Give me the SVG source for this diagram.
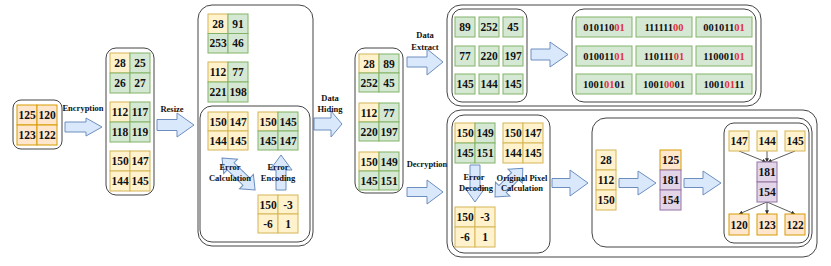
<svg xmlns="http://www.w3.org/2000/svg" width="831" height="266" viewBox="0 0 831 266">
<defs>
<style>
.y{fill:#fff2cc;stroke:#d6b656;stroke-width:1}
.g{fill:#d5e8d4;stroke:#82b366;stroke-width:1}
.o{fill:#ffe6cc;stroke:#d79b00;stroke-width:1}
.p{fill:#e1d5e7;stroke:#9673a6;stroke-width:1}
.box{fill:none;stroke:#444;stroke-width:1}
.arr{fill:#dae8fc;stroke:#6c8ebf;stroke-width:1}
text{font-family:"Liberation Serif","Times New Roman",serif;font-weight:bold;fill:#111;text-anchor:middle;dominant-baseline:central}
.n{font-size:11.5px}
.b{font-size:10.5px}
.lb{font-size:8.5px}
.r{fill:#e0313f}
.ln{stroke:#333;stroke-width:0.8;fill:none}
</style>
<marker id="ah" viewBox="0 0 6 6" refX="5.5" refY="3" markerWidth="5" markerHeight="5" orient="auto">
<path d="M0,0 L6,3 L0,6 Z" fill="#333"/>
</marker>
</defs>
<rect width="831" height="266" fill="#fff"/>

<g id="connectors">
<!-- Encryption -->
<path class="arr" d="M65,122 H86 V118 L102,127 L86,136 V132 H65 Z"/>
<text class="lb" x="83" y="108">Encryption</text>
<!-- Resize -->
<path class="arr" d="M157,119.5 H177 V113 L194,125 L177,137 V130.5 H157 Z"/>
<text class="lb" x="172" y="109">Resize</text>
<!-- Data Hiding -->
<path class="arr" d="M314,118 H331 V111 L342,124 L331,137 V130 H314 Z"/>
<text class="lb" x="330" y="98">Data</text>
<text class="lb" x="330" y="109">Hiding</text>
<!-- Data Extract -->
<path class="arr" d="M407,57 H427 V49 L443,62 L427,75 V67 H407 Z"/>
<text class="lb" x="425" y="35">Data</text>
<text class="lb" x="425" y="47">Extract</text>
<!-- Decryption -->
<path class="arr" d="M407,187.5 H427 V180 L443,192 L427,204 V196.5 H407 Z"/>
<text class="lb" x="427" y="164">Decryption</text>
<!-- top inner -->
<path class="arr" d="M531,49 H550 V42 L568,54.5 L550,67 V60 H531 Z"/>
<!-- bottom arrows -->
<path class="arr" d="M552,178.5 H570 V170 L588,183 L570,196 V187.5 H552 Z"/>
<path class="arr" d="M619,178.5 H638 V171 L656,183 L638,195 V187.5 H619 Z"/>
<path class="arr" d="M684,178.5 H703 V171 L721,183 L703,195 V187.5 H684 Z"/>
<!-- Error Calculation (double) -->
<path class="arr" transform="translate(222,158) rotate(44)" d="M0,0 L12,-10 V-5 H34 V-10 L46,0 L34,10 V5 H12 V10 Z"/>
<!-- Error Encoding (up) -->
<path class="arr" d="M276,190 V170 H270 L281,155 L292,170 H286 V190 Z"/>
<!-- Error Decoding (down) -->
<path class="arr" d="M470,165 V188 H465 L475,202 L485,188 H480 V165 Z"/>
<!-- Original Pixel Calculation (double) -->
<path class="arr" transform="translate(495,197) rotate(-46)" d="M0,0 L11,-10 V-5 H29 V-10 L40,0 L29,10 V5 H11 V10 Z"/>
<text class="lb" x="230" y="167">Error</text>
<text class="lb" x="230" y="178">Calculation</text>
<text class="lb" x="278" y="167">Error</text>
<text class="lb" x="278" y="178">Encoding</text>
<text class="lb" x="474" y="177">Error</text>
<text class="lb" x="476" y="188">Decoding</text>
<text class="lb" x="522" y="178">Original Pixel</text>
<text class="lb" x="522" y="188">Calculation</text>
<!-- tree lines -->
<line class="ln" x1="739" y1="151" x2="766" y2="162" marker-end="url(#ah)"/>
<line class="ln" x1="767" y1="151" x2="767" y2="162" marker-end="url(#ah)"/>
<line class="ln" x1="795" y1="151" x2="768" y2="162" marker-end="url(#ah)"/>
<line class="ln" x1="767" y1="202" x2="739" y2="214" marker-end="url(#ah)"/>
<line class="ln" x1="767" y1="202" x2="767" y2="214" marker-end="url(#ah)"/>
<line class="ln" x1="767" y1="202" x2="795" y2="214" marker-end="url(#ah)"/>
</g>

<g id="original">
<rect class="box" x="13" y="100" width="49" height="49" rx="8"/>
<rect class="o" x="17" y="105" width="20" height="20"/><text class="n" x="27" y="115">125</text>
<rect class="o" x="37" y="105" width="20" height="20"/><text class="n" x="47" y="115">120</text>
<rect class="o" x="17" y="125" width="20" height="20"/><text class="n" x="27" y="135">123</text>
<rect class="o" x="37" y="125" width="20" height="20"/><text class="n" x="47" y="135">122</text>
</g>

<g id="encrypted">
<rect class="box" x="106" y="48" width="48" height="147" rx="10"/>
<rect class="y" x="110" y="53" width="20" height="20"/><text class="n" x="120" y="63">28</text>
<rect class="g" x="130" y="53" width="20" height="20"/><text class="n" x="140" y="63">25</text>
<rect class="g" x="110" y="73" width="20" height="20"/><text class="n" x="120" y="83">26</text>
<rect class="g" x="130" y="73" width="20" height="20"/><text class="n" x="140" y="83">27</text>
<rect class="y" x="110" y="102" width="20" height="20"/><text class="n" x="120" y="112">112</text>
<rect class="g" x="130" y="102" width="20" height="20"/><text class="n" x="140" y="112">117</text>
<rect class="g" x="110" y="122" width="20" height="20"/><text class="n" x="120" y="132">118</text>
<rect class="g" x="130" y="122" width="20" height="20"/><text class="n" x="140" y="132">119</text>
<rect class="y" x="110" y="151" width="20" height="20"/><text class="n" x="120" y="161">150</text>
<rect class="y" x="130" y="151" width="20" height="20"/><text class="n" x="140" y="161">147</text>
<rect class="y" x="110" y="171" width="20" height="20"/><text class="n" x="120" y="181">144</text>
<rect class="y" x="130" y="171" width="20" height="20"/><text class="n" x="140" y="181">145</text>
</g>

<g id="resized">
<rect class="box" x="198" y="5" width="115" height="241" rx="14"/>
<rect class="y" x="208" y="14" width="20" height="19.5"/><text class="n" x="218" y="24">28</text>
<rect class="g" x="228" y="14" width="20" height="19.5"/><text class="n" x="238" y="24">91</text>
<rect class="g" x="208" y="33.5" width="20" height="19.5"/><text class="n" x="218" y="43">253</text>
<rect class="g" x="228" y="33.5" width="20" height="19.5"/><text class="n" x="238" y="43">46</text>
<rect class="y" x="208" y="62" width="20" height="20"/><text class="n" x="218" y="72">112</text>
<rect class="g" x="228" y="62" width="20" height="20"/><text class="n" x="238" y="72">77</text>
<rect class="g" x="208" y="82" width="20" height="20"/><text class="n" x="218" y="92">221</text>
<rect class="g" x="228" y="82" width="20" height="20"/><text class="n" x="238" y="92">198</text>
<g id="error-block">
<rect class="box" x="200" y="106" width="110" height="136" rx="12"/>
<rect class="y" x="208" y="112" width="20" height="19"/><text class="n" x="218" y="121.5">150</text>
<rect class="y" x="228" y="112" width="20" height="19"/><text class="n" x="238" y="121.5">147</text>
<rect class="y" x="208" y="131" width="20" height="19"/><text class="n" x="218" y="140.5">144</text>
<rect class="y" x="228" y="131" width="20" height="19"/><text class="n" x="238" y="140.5">145</text>
<rect class="y" x="258" y="112" width="20" height="19"/><text class="n" x="268" y="121.5">150</text>
<rect class="g" x="278" y="112" width="20" height="19"/><text class="n" x="288" y="121.5">145</text>
<rect class="g" x="258" y="131" width="20" height="19"/><text class="n" x="268" y="140.5">145</text>
<rect class="g" x="278" y="131" width="20" height="19"/><text class="n" x="288" y="140.5">147</text>
<rect class="y" x="258" y="195" width="20" height="19"/><text class="n" x="268" y="204.5">150</text>
<rect class="y" x="278" y="195" width="20" height="19"/><text class="n" x="288" y="204.5">-3</text>
<rect class="y" x="258" y="214" width="20" height="19"/><text class="n" x="268" y="223.5">-6</text>
<rect class="y" x="278" y="214" width="20" height="19"/><text class="n" x="288" y="223.5">1</text>
</g>
</g>

<g id="hidden">
<rect class="box" x="355" y="48" width="48" height="145" rx="10"/>
<rect class="y" x="359" y="54" width="20" height="19"/><text class="n" x="369" y="63.5">28</text>
<rect class="g" x="379" y="54" width="20" height="19"/><text class="n" x="389" y="63.5">89</text>
<rect class="g" x="359" y="73" width="20" height="19"/><text class="n" x="369" y="82.5">252</text>
<rect class="g" x="379" y="73" width="20" height="19"/><text class="n" x="389" y="82.5">45</text>
<rect class="y" x="359" y="103" width="20" height="19"/><text class="n" x="369" y="112.5">112</text>
<rect class="g" x="379" y="103" width="20" height="19"/><text class="n" x="389" y="112.5">77</text>
<rect class="g" x="359" y="122" width="20" height="19"/><text class="n" x="369" y="131.5">220</text>
<rect class="g" x="379" y="122" width="20" height="19"/><text class="n" x="389" y="131.5">197</text>
<rect class="y" x="359" y="152" width="20" height="19"/><text class="n" x="369" y="161.5">150</text>
<rect class="g" x="379" y="152" width="20" height="19"/><text class="n" x="389" y="161.5">149</text>
<rect class="g" x="359" y="171" width="20" height="19"/><text class="n" x="369" y="180.5">145</text>
<rect class="g" x="379" y="171" width="20" height="19"/><text class="n" x="389" y="180.5">151</text>
</g>

<g id="extract">
<rect class="box" x="447" y="5" width="314" height="101" rx="14"/>
<g id="extract-values">
<rect class="box" x="452" y="9" width="75" height="93" rx="10"/>
<rect class="g" x="455" y="17" width="20" height="20"/><text class="n" x="465" y="27">89</text>
<rect class="g" x="479" y="17" width="20" height="20"/><text class="n" x="489" y="27">252</text>
<rect class="g" x="503" y="17" width="20" height="20"/><text class="n" x="513" y="27">45</text>
<rect class="g" x="455" y="46" width="20" height="20"/><text class="n" x="465" y="56">77</text>
<rect class="g" x="479" y="46" width="20" height="20"/><text class="n" x="489" y="56">220</text>
<rect class="g" x="503" y="46" width="20" height="20"/><text class="n" x="513" y="56">197</text>
<rect class="g" x="455" y="74" width="20" height="20"/><text class="n" x="465" y="84">145</text>
<rect class="g" x="479" y="74" width="20" height="20"/><text class="n" x="489" y="84">144</text>
<rect class="g" x="503" y="74" width="20" height="20"/><text class="n" x="513" y="84">145</text>
</g>
<g id="extract-bits">
<rect class="box" x="572" y="9" width="184" height="93" rx="12"/>
<rect class="g" x="576" y="17" width="56" height="20"/><text class="b" x="604" y="27">010110<tspan class="r">01</tspan></text>
<rect class="g" x="636" y="17" width="56" height="20"/><text class="b" x="664" y="27">111111<tspan class="r">00</tspan></text>
<rect class="g" x="696" y="17" width="56" height="20"/><text class="b" x="724" y="27">001011<tspan class="r">01</tspan></text>
<rect class="g" x="576" y="46" width="56" height="20"/><text class="b" x="604" y="56">010011<tspan class="r">01</tspan></text>
<rect class="g" x="636" y="46" width="56" height="20"/><text class="b" x="664" y="56">110111<tspan class="r">01</tspan></text>
<rect class="g" x="696" y="46" width="56" height="20"/><text class="b" x="724" y="56">110001<tspan class="r">01</tspan></text>
<rect class="g" x="576" y="74" width="56" height="20"/><text class="b" x="604" y="84">1001<tspan class="r">01</tspan>01</text>
<rect class="g" x="636" y="74" width="56" height="20"/><text class="b" x="664" y="84">1001<tspan class="r">00</tspan>01</text>
<rect class="g" x="696" y="74" width="56" height="20"/><text class="b" x="724" y="84">1001<tspan class="r">01</tspan>11</text>
</g>
</g>

<g id="decrypt">
<rect class="box" x="447" y="110" width="370" height="147" rx="14"/>
<g id="decode">
<rect class="box" x="452" y="115" width="98" height="138" rx="12"/>
<rect class="y" x="455" y="123" width="20" height="20"/><text class="n" x="465" y="133">150</text>
<rect class="g" x="475" y="123" width="20" height="20"/><text class="n" x="485" y="133">149</text>
<rect class="g" x="455" y="143" width="20" height="20"/><text class="n" x="465" y="153">145</text>
<rect class="g" x="475" y="143" width="20" height="20"/><text class="n" x="485" y="153">151</text>
<rect class="y" x="503" y="123" width="20" height="20"/><text class="n" x="513" y="133">150</text>
<rect class="y" x="523" y="123" width="20" height="20"/><text class="n" x="533" y="133">147</text>
<rect class="y" x="503" y="143" width="20" height="20"/><text class="n" x="513" y="153">144</text>
<rect class="y" x="523" y="143" width="20" height="20"/><text class="n" x="533" y="153">145</text>
<rect class="y" x="455" y="207" width="20" height="20"/><text class="n" x="465" y="217">150</text>
<rect class="y" x="475" y="207" width="20" height="20"/><text class="n" x="485" y="217">-3</text>
<rect class="y" x="455" y="227" width="20" height="20"/><text class="n" x="465" y="237">-6</text>
<rect class="y" x="475" y="227" width="20" height="20"/><text class="n" x="485" y="237">1</text>
</g>
<g id="recover">
<rect class="box" x="592" y="118" width="220" height="129" rx="14"/>
<rect class="y" x="596" y="150" width="20" height="20"/><text class="n" x="606" y="160">28</text>
<rect class="y" x="596" y="170" width="20" height="20"/><text class="n" x="606" y="180">112</text>
<rect class="y" x="596" y="190" width="20" height="20"/><text class="n" x="606" y="200">150</text>
<rect class="o" x="660" y="150" width="21" height="20"/><text class="n" x="670.5" y="160">125</text>
<rect class="p" x="660" y="170" width="21" height="20"/><text class="n" x="670.5" y="180">181</text>
<rect class="p" x="660" y="190" width="21" height="20"/><text class="n" x="670.5" y="200">154</text>
<g id="tree">
<rect class="box" x="724" y="123" width="85" height="120" rx="10"/>
<rect class="y" x="729" y="131" width="20" height="20"/><text class="n" x="739" y="141">147</text>
<rect class="y" x="757" y="131" width="20" height="20"/><text class="n" x="767" y="141">144</text>
<rect class="y" x="785" y="131" width="20" height="20"/><text class="n" x="795" y="141">145</text>
<rect class="p" x="757" y="162" width="20" height="20"/><text class="n" x="767" y="172">181</text>
<rect class="p" x="757" y="182" width="20" height="20"/><text class="n" x="767" y="192">154</text>
<rect class="o" x="729" y="214" width="20" height="21"/><text class="n" x="739" y="224.5">120</text>
<rect class="o" x="757" y="214" width="20" height="21"/><text class="n" x="767" y="224.5">123</text>
<rect class="o" x="785" y="214" width="20" height="21"/><text class="n" x="795" y="224.5">122</text>
</g>
</g>
</g>
</svg>
